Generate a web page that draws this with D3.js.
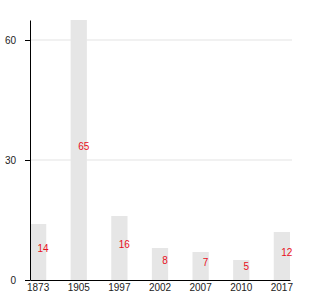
<!DOCTYPE html>
<html>
<head>
<meta charset="utf-8">
<script src="https://cdn.jsdelivr.net/npm/d3@7"></script>
<style>
  body { margin: 0; background: #fff; }
  svg text { font-family: "Liberation Sans", Arial, sans-serif; }
</style>
</head>
<body>
<svg id="chart" width="330" height="300"></svg>
<script>
const years = ['1873', '1905', '1997', '2002', '2007', '2010', '2017'];
const values = [14, 65, 16, 8, 7, 5, 12];
const yTicks = [0, 30, 60];

const data = years.map((y, i) => ({ label: y, value: values[i] }));

const svg = d3.select("#chart");
const plotLeft = 30, plotRight = 290, plotTop = 20, plotBottom = 280;

const xScale = d3.scaleBand()
                .domain(years)
                .range([plotLeft, plotRight])
                .paddingInner(0.6)
                .paddingOuter(0);

const yScale = d3.scaleLinear()
                .domain([0, 65])
                .range([plotBottom, plotTop]);

// grid lines
svg.append("g")
   .selectAll("line")
   .data(yTicks.filter(t => t > 0))
   .enter().append("line")
   .attr("x1", plotLeft)
   .attr("x2", plotRight + 2)
   .attr("y1", d => yScale(d))
   .attr("y2", d => yScale(d))
   .attr("stroke", "#e3e3e3")
   .attr("stroke-width", 1);

// bars
svg.append("g")
   .selectAll("rect")
   .data(data)
   .enter().append("rect")
   .attr("x", d => xScale(d.label))
   .attr("y", d => yScale(d.value))
   .attr("width", xScale.bandwidth())
   .attr("height", d => plotBottom - yScale(d.value))
   .attr("fill", "#e6e6e6");

// value labels
svg.append("g")
   .selectAll("text")
   .data(data)
   .enter().append("text")
   .attr("x", d => xScale(d.label) + xScale.bandwidth() / 2 + 5)
   .attr("y", d => (yScale(d.value) + plotBottom) / 2)
   .attr("text-anchor", "middle")
   .attr("font-size", "10px")
   .attr("fill", "#e8101c")
   .text(d => d.value);

// axes
const yAxis = svg.append("g")
   .attr("transform", `translate(${plotLeft},0)`)
   .call(d3.axisLeft(yScale).tickValues(yTicks).tickSize(5).tickPadding(9).tickSizeOuter(0));
yAxis.selectAll("text").attr("font-size", "10px").attr("fill", "#222").attr("font-family", null);

const xAxis = svg.append("g")
   .attr("transform", `translate(0,${plotBottom})`)
   .call(d3.axisBottom(xScale).tickSize(0).tickPadding(4));
xAxis.selectAll("text").attr("font-size", "10px").attr("fill", "#222").attr("font-family", null);
xAxis.select(".domain").attr("stroke-width", 1.2);
</script>
</body>
</html>
